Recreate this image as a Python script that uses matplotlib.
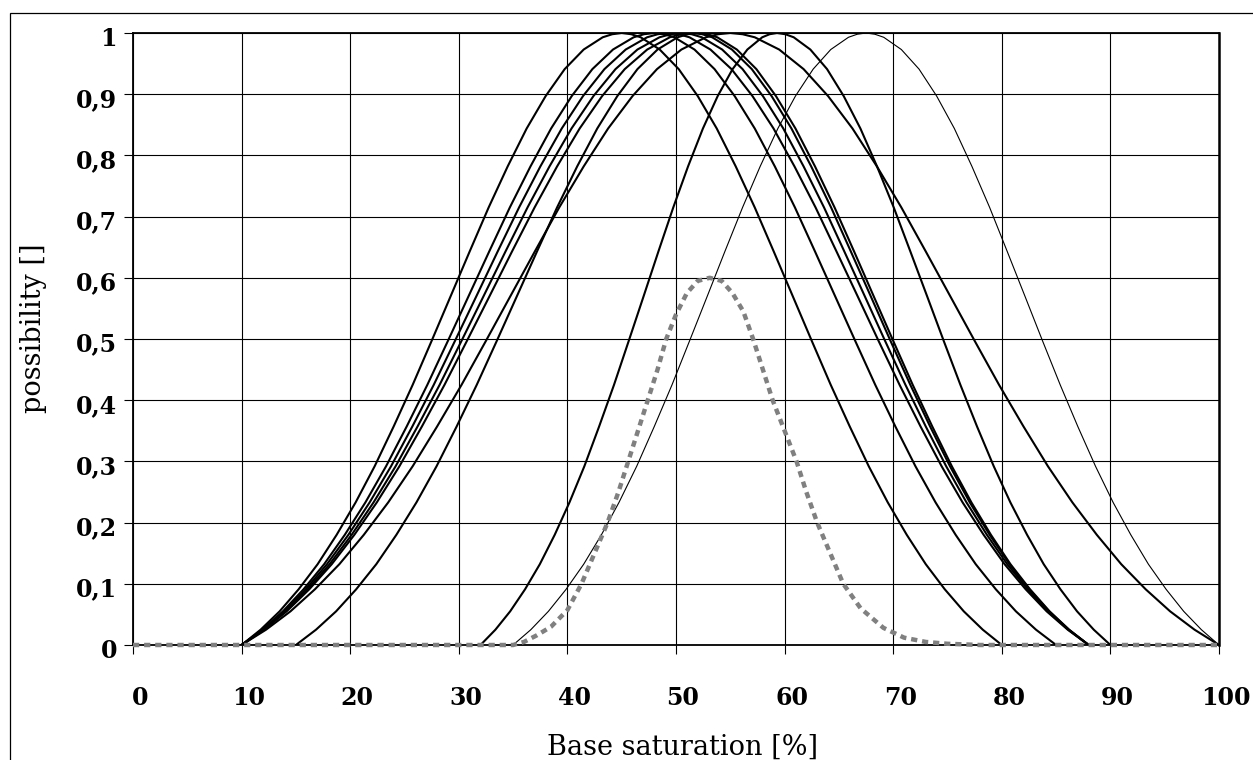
import matplotlib
matplotlib.use('Agg')
import matplotlib.pyplot as plt
import matplotlib.transforms as mtransforms
from matplotlib.patches import Rectangle

plt.rcParams['font.family'] = ['DejaVu Serif']

# possibility values along each black curve (same bell shape for all of them)
possibility = [0, 0.025, 0.055, 0.091, 0.132, 0.180, 0.233, 0.292, 0.357, 0.425, 0.497,
               0.570, 0.643, 0.715, 0.782, 0.844, 0.897, 0.941, 0.973, 0.993, 0.998, 1.0,
               0.998, 0.993, 0.973, 0.941, 0.897, 0.844, 0.782, 0.715, 0.643, 0.570, 0.497,
               0.425, 0.357, 0.292, 0.233, 0.180, 0.132, 0.091, 0.055, 0.025, 0]

# base saturation [%] at those possibility values, one list per curve
curve_a = [10, 11.75, 13.5, 15.25, 17, 18.75, 20.5, 22.25, 24, 25.75, 27.5, 29.25, 31, 32.75,
           34.5, 36.25, 38, 39.75, 41.5, 43.25, 44.13, 45,
           45.88, 46.75, 48.5, 50.25, 52, 53.75, 55.5, 57.25, 59, 60.75, 62.5, 64.25, 66, 67.75,
           69.5, 71.25, 73, 74.75, 76.5, 78.25, 80]
curve_b = [10, 11.9, 13.8, 15.7, 17.6, 19.5, 21.4, 23.3, 25.2, 27.1, 29, 30.9, 32.8, 34.7,
           36.6, 38.5, 40.4, 42.3, 44.2, 46.1, 47.05, 48,
           48.93, 49.85, 51.7, 53.55, 55.4, 57.25, 59.1, 60.95, 62.8, 64.65, 66.5, 68.35, 70.2, 72.05,
           73.9, 75.75, 77.6, 79.45, 81.3, 83.15, 85]
curve_c1 = [10, 11.97, 13.93, 15.9, 17.86, 19.83, 21.79, 23.76, 25.72, 27.69, 29.65, 31.62, 33.58, 35.55,
            37.51, 39.48, 41.44, 43.41, 45.37, 47.34, 48.32, 49.3,
            50.27, 51.24, 53.17, 55.11, 57.04, 58.98, 60.91, 62.85, 64.78, 66.72, 68.65, 70.59, 72.52, 74.46,
            76.39, 78.33, 80.26, 82.2, 84.13, 86.07, 88]
curve_c2 = [10, 12.03, 14.05, 16.08, 18.1, 20.13, 22.15, 24.18, 26.2, 28.23, 30.25, 32.28, 34.3, 36.33,
            38.35, 40.38, 42.4, 44.43, 46.45, 48.48, 49.49, 50.5,
            51.44, 52.38, 54.25, 56.13, 58, 59.88, 61.75, 63.63, 65.5, 67.38, 69.25, 71.13, 73, 74.88,
            76.75, 78.63, 80.5, 82.38, 84.25, 86.13, 88]
curve_c3 = [10, 12.08, 14.15, 16.23, 18.3, 20.38, 22.45, 24.53, 26.6, 28.68, 30.75, 32.83, 34.9, 36.98,
            39.05, 41.13, 43.2, 45.28, 47.35, 49.43, 50.46, 51.5,
            52.41, 53.33, 55.15, 56.98, 58.8, 60.63, 62.45, 64.28, 66.1, 67.93, 69.75, 71.58, 73.4, 75.23,
            77.05, 78.88, 80.7, 82.53, 84.35, 86.18, 88]
curve_c4 = [15, 16.85, 18.7, 20.55, 22.4, 24.25, 26.1, 27.95, 29.8, 31.65, 33.5, 35.35, 37.2, 39.05,
            40.9, 42.75, 44.6, 46.45, 48.3, 50.15, 51.08, 52,
            52.9, 53.8, 55.6, 57.4, 59.2, 61, 62.8, 64.6, 66.4, 68.2, 70, 71.8, 73.6, 75.4,
            77.2, 79, 80.8, 82.6, 84.4, 86.2, 88]
curve_f = [10, 12.25, 14.5, 16.75, 19, 21.25, 23.5, 25.75, 28, 30.25, 32.5, 34.75, 37, 39.25,
           41.5, 43.75, 46, 48.25, 50.5, 52.75, 53.88, 55,
           56.13, 57.25, 59.5, 61.75, 64, 66.25, 68.5, 70.75, 73, 75.25, 77.5, 79.75, 82, 84.25,
           86.5, 88.75, 91, 93.25, 95.5, 97.75, 100]
curve_e = [32, 33.37, 34.73, 36.1, 37.46, 38.83, 40.19, 41.56, 42.92, 44.29, 45.65, 47.02, 48.38, 49.75,
           51.11, 52.48, 53.84, 55.21, 56.57, 57.94, 58.62, 59.3,
           60.07, 60.84, 62.37, 63.91, 65.44, 66.98, 68.51, 70.05, 71.58, 73.12, 74.65, 76.19, 77.72, 79.26,
           80.79, 82.33, 83.86, 85.4, 86.93, 88.47, 90]
curve_thin = [35, 36.63, 38.25, 39.88, 41.5, 43.13, 44.75, 46.38, 48, 49.63, 51.25, 52.88, 54.5, 56.13,
              57.75, 59.38, 61, 62.63, 64.25, 65.88, 66.69, 67.5,
              68.31, 69.13, 70.75, 72.38, 74, 75.63, 77.25, 78.88, 80.5, 82.13, 83.75, 85.38, 87, 88.63,
              90.25, 91.88, 93.5, 95.13, 96.75, 98.38, 100]

# grey dotted result curve
result_x = [0, 35, 36, 37.2, 38.5, 40, 41.3, 42.5, 43.7, 44.7, 45.6, 46.5, 47.4, 48.3, 49.1, 50,
            51, 52, 53.1, 54.2, 55.2, 56.2, 57.1, 58, 58.9, 60, 61.1, 62, 63, 64.2, 65.4,
            67, 69.1, 71, 73, 75, 78, 100]
result_y = [0, 0, 0.005, 0.016, 0.03, 0.057, 0.1, 0.15, 0.2, 0.25, 0.3, 0.35, 0.4, 0.45, 0.5, 0.54,
            0.575, 0.595, 0.6, 0.595, 0.575, 0.545, 0.5, 0.45, 0.4, 0.35, 0.3, 0.25, 0.2, 0.15, 0.1,
            0.06, 0.028, 0.012, 0.005, 0.002, 0, 0]

x_ticks = [0, 10, 20, 30, 40, 50, 60, 70, 80, 90, 100]
y_ticks = [0, 0.1, 0.2, 0.3, 0.4, 0.5, 0.6, 0.7, 0.8, 0.9, 1.0]
y_tick_labels = ['0', '0,1', '0,2', '0,3', '0,4', '0,5', '0,6', '0,7', '0,8', '0,9', '1']

W, H = 1253, 760
fig = plt.figure(figsize=(W / 100, H / 100), dpi=100)
ax = fig.add_axes([133 / W, 1 - 645 / H, 1086 / W, 612 / H])

thick = [curve_a, curve_b, curve_c1, curve_c2, curve_c3, curve_c4, curve_f, curve_e]
for xs in thick:
    ax.plot(xs, possibility, color='black', lw=1.5, solid_joinstyle='round', zorder=3)
ax.plot(curve_thin, possibility, color='black', lw=0.8, solid_joinstyle='round', zorder=3)

ax.plot(result_x, result_y, color='#808080', lw=3.2, linestyle=(0, (1.4, 1.1)),
        dash_capstyle='butt', clip_on=False, zorder=4)

ax.set_xlim(0, 100)
ax.set_ylim(0, 1)
ax.set_xticks(x_ticks)
ax.set_yticks(y_ticks)
ax.set_yticklabels(y_tick_labels)
ax.grid(True, color='black', lw=0.8)
ax.set_axisbelow(True)
ax.tick_params(direction='out', length=6.5, width=0.8, colors='black')
ax.tick_params(axis='x', pad=23, labelsize=17)
ax.tick_params(axis='y', pad=5, labelsize=17)

# excel puts the x labels a bit to the right of the ticks
shift_x = mtransforms.ScaledTranslation(7 / 100, 0, fig.dpi_scale_trans)
for lab in ax.get_xticklabels():
    lab.set_fontweight('bold')
    lab.set_transform(lab.get_transform() + shift_x)
shift_y = mtransforms.ScaledTranslation(0, -3 / 100, fig.dpi_scale_trans)
for lab in ax.get_yticklabels():
    lab.set_fontweight('bold')
    lab.set_transform(lab.get_transform() + shift_y)

for side in ['left', 'top', 'bottom']:
    ax.spines[side].set_linewidth(1.3)
ax.spines['right'].set_linewidth(1.8)

fig.text(683 / W, 1 - 755 / H, 'Base saturation [%]', ha='center', va='baseline', fontsize=19.5)
fig.text(34 / W, 1 - 328 / H, 'possibility []', ha='center', va='center', rotation=90, fontsize=19.5)

# outer chart border, cut off at the right and bottom
fig.patches.append(Rectangle((10 / W, -0.1), 2, 1 - 13 / H + 0.1, transform=fig.transFigure,
                             fill=False, lw=0.9, edgecolor='black'))

fig.savefig('out.png', dpi=100)
